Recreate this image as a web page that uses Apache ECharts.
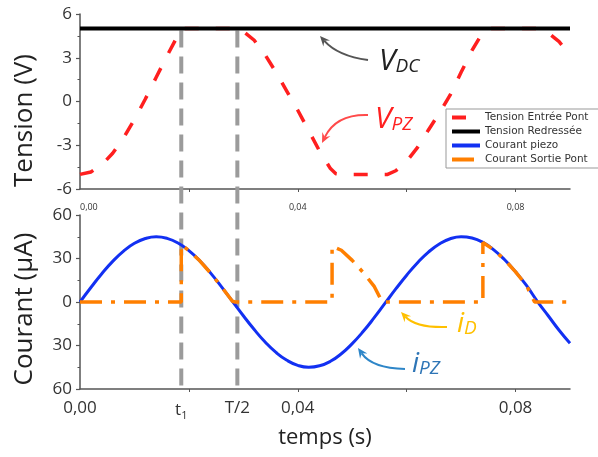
<!DOCTYPE html>
<html><head><meta charset="utf-8">
<script src="https://cdn.jsdelivr.net/npm/echarts@6/dist/echarts.min.js"></script>
<style>html,body{margin:0;padding:0;background:#fff}#c{width:598px;height:457px}</style>
</head><body><div id="c"></div>
<script>
// ---- data ----
const seriesNames = ['Tension Entrée Pont', 'Tension Redressée', 'Courant piezo', 'Courant Sortie Pont'];

// Tension Entrée Pont (V_PZ), volts
const tVpz = [0,0.002,0.004,0.006,0.008,0.010,0.012,0.014,0.016,0.018,0.0186,0.0289,0.030,0.032,0.034,0.036,0.038,0.040,0.042,0.044,0.046,0.047,0.048,0.0565,0.058,0.060,0.062,0.064,0.066,0.068,0.070,0.072,0.074,0.0748,0.084,0.086,0.088,0.090];
const vPz  = [-5,-4.83,-4.34,-3.55,-2.5,-1.23,0.17,1.66,3.14,4.55,5,5,4.8,4.2,3.2,2.0,0.7,-0.6,-2.0,-3.4,-4.6,-4.95,-5,-5,-4.75,-4.1,-3.15,-1.95,-0.8,0.45,2.0,3.5,4.75,5,5,4.7,4.1,3.2];

// Tension Redressée (V_DC), volts
const tDc = [0, 0.09];
const vDc = [5, 5];

// Courant piezo (i_PZ), µA
const tPiezo = [0,0.002,0.004,0.006,0.008,0.010,0.012,0.014,0.016,0.018,0.020,0.022,0.024,0.026,0.028,0.030,0.032,0.034,0.036,0.038,0.040,0.042,0.044,0.046,0.048,0.050,0.052,0.054,0.056,0.058,0.060,0.062,0.064,0.066,0.068,0.070,0.072,0.074,0.076,0.078,0.080,0.082,0.084,0.086,0.088,0.090];
const iPiezo = [0,10.0,19.5,28.0,35.1,40.5,43.8,45.0,43.9,40.7,35.4,28.4,19.9,10.4,0.5,-9.5,-19.0,-27.6,-34.8,-40.2,-43.7,-45.0,-44.0,-40.9,-35.7,-28.7,-20.4,-11.0,-1.0,9.0,18.5,27.1,34.4,40.0,43.6,45.0,44.1,41.1,36.0,29.1,20.8,11.4,0.5,-9.5,-19.5,-28.5];

// Courant Sortie Pont (i_D), µA
const tOut = [0,0.0186,0.0186,0.020,0.022,0.024,0.026,0.028,0.0285,0.0463,0.0463,0.048,0.050,0.052,0.054,0.0555,0.0740,0.0740,0.076,0.078,0.080,0.082,0.0835,0.090];
const iOut = [0,0,39.5,35.4,28.4,19.9,10.4,0.5,0,0,38.5,35.7,28.7,20.4,11.0,0,0,41.0,36.0,29.1,20.8,11.4,0,0];

// special instants
const tOne = 0.0186;   // t1
const tHalf = 0.0289;  // T/2

// tick values / labels
const xTickValues = [0.02, 0.04, 0.06, 0.08];
const xTopLabelValues = [0, 0.04, 0.08];
const xBottomLabelValues = [0, tOne, tHalf, 0.04, 0.08];
const tensionRange = [-6, 6], tensionStep = 3;
const courantRange = [-60, 60], courantStep = 30;

// ---- chart ----
const FONT = 'Open Sans';
const AX = '#555';
const zip = (a, b) => a.map((v, i) => [v, b[i]]);
const fmt = v => v.toFixed(2).replace('.', ',');

function yAxisCfg(grid, range, step, name, formatter, shift) {
  return {
    gridIndex: grid, type: 'value', min: range[0], max: range[1], interval: step,
    name: name, nameLocation: 'middle', nameGap: 42,
    nameTextStyle: { fontSize: 26, fontFamily: FONT, color: '#222', padding: [0, shift, 0, 0] },
    axisLine: { show: true, lineStyle: { color: AX, width: 1.5 } },
    axisTick: { show: true, length: 4, lineStyle: { color: AX, width: 1.2 } },
    minorTick: { show: true, splitNumber: 2, length: 2.5, lineStyle: { color: AX, width: 1 } },
    axisLabel: { fontSize: 17, fontFamily: FONT, color: '#333', margin: 8, formatter: formatter },
    splitLine: { show: false }
  };
}

const option = {
  animation: false,
  backgroundColor: '#fff',
  grid: [
    { left: 80, top: 14, width: 490, height: 175 },
    { left: 80, top: 215, width: 490, height: 174 }
  ],
  xAxis: [
    {
      gridIndex: 0, type: 'value', min: 0, max: 0.09,
      axisLine: { onZero: false, lineStyle: { color: AX, width: 1.5 } },
      axisTick: { show: true, length: 3, customValues: xTickValues, lineStyle: { color: AX } },
      axisLabel: { customValues: xTopLabelValues, formatter: fmt, fontSize: 9, fontFamily: FONT, color: '#333', margin: 14, alignMinLabel: 'left' },
      splitLine: { show: false }
    },
    {
      gridIndex: 1, type: 'value', min: 0, max: 0.09,
      name: 'temps (s)', nameLocation: 'middle', nameGap: 38,
      nameTextStyle: { fontSize: 22, fontFamily: FONT, color: '#222' },
      axisLine: { onZero: false, lineStyle: { color: AX, width: 1.5 } },
      axisTick: { show: true, length: 3, customValues: xTickValues, lineStyle: { color: AX } },
      axisLabel: {
        customValues: xBottomLabelValues, fontSize: 17, fontFamily: FONT, color: '#333', margin: 11,
        formatter: v => {
          if (Math.abs(v - tOne) < 1e-7) return '{a|t}{b|1}';
          if (Math.abs(v - tHalf) < 1e-7) return 'T/2';
          return fmt(v);
        },
        rich: {
          a: { fontSize: 17, fontFamily: FONT, color: '#333' },
          b: { fontSize: 11, fontFamily: FONT, color: '#333', padding: [10, 0, 0, 0] }
        }
      },
      splitLine: { show: false }
    }
  ],
  yAxis: [
    yAxisCfg(0, tensionRange, tensionStep, 'Tension (V)', v => String(v), 38),
    yAxisCfg(1, courantRange, courantStep, 'Courant (µA)', v => String(Math.abs(v)), 14)
  ],
  legend: {
    orient: 'vertical', left: 446, top: 109,
    itemWidth: 28, itemHeight: 4, itemGap: 3,
    padding: [3, 12, 3, 4],
    backgroundColor: '#fff', borderColor: '#999', borderWidth: 1, borderRadius: 0,
    itemStyle: { opacity: 0 },
    lineStyle: { width: 4 },
    textStyle: { fontSize: 10.5, fontFamily: 'DejaVu Sans', color: '#333' },
    data: seriesNames
  },
  series: [
    {
      name: seriesNames[0], type: 'line', xAxisIndex: 0, yAxisIndex: 0,
      data: zip(tVpz, vPz), showSymbol: false, symbol: 'none', z: 2,
      lineStyle: { color: '#ff1f1f', width: 3.5, type: [14, 17] },
      itemStyle: { color: '#ff1f1f' }
    },
    {
      name: seriesNames[1], type: 'line', xAxisIndex: 0, yAxisIndex: 0,
      data: zip(tDc, vDc), showSymbol: false, symbol: 'none', z: 4,
      lineStyle: { color: '#000', width: 4 },
      itemStyle: { color: '#000' }
    },
    {
      name: seriesNames[2], type: 'line', xAxisIndex: 1, yAxisIndex: 1,
      data: zip(tPiezo, iPiezo), showSymbol: false, symbol: 'none', smooth: true, z: 2,
      lineStyle: { color: '#1230f2', width: 3 },
      itemStyle: { color: '#1230f2' }
    },
    {
      name: seriesNames[3], type: 'line', xAxisIndex: 1, yAxisIndex: 1,
      data: zip(tOut, iOut), showSymbol: false, symbol: 'none', z: 4,
      lineStyle: { color: '#ff7f00', width: 3.5, type: [22, 9, 4, 9] },
      itemStyle: { color: '#ff7f00' }
    }
  ]
};

const chart = echarts.init(document.getElementById('c'), null, { renderer: 'canvas' });
chart.setOption(option);

// ---- overlays: vertical guides and annotations ----
function arrow(p0, c, p1, color) {
  const ang = Math.atan2(p1[1] - c[1], p1[0] - c[0]);
  const L = 10, W = 4.5;
  const bx = p1[0] - L * Math.cos(ang), by = p1[1] - L * Math.sin(ang);
  const px = -Math.sin(ang) * W, py = Math.cos(ang) * W;
  const mx = p1[0] - L * 0.65 * Math.cos(ang), my = p1[1] - L * 0.65 * Math.sin(ang);
  return [
    { type: 'bezierCurve', z: 100, shape: { x1: p0[0], y1: p0[1], x2: mx, y2: my, cpx1: c[0], cpy1: c[1] },
      style: { stroke: color, lineWidth: 2, fill: 'none' } },
    { type: 'polygon', z: 100, shape: { points: [[p1[0], p1[1]], [bx + px, by + py], [mx, my], [bx - px, by - py]] },
      style: { fill: color } }
  ];
}
function label(x, y, big, small, color, bigSize, smallSize) {
  return {
    type: 'text', z: 100, x: x, y: y,
    style: {
      text: '{v|' + big + '}{s|' + small + '}', verticalAlign: 'middle',
      rich: {
        v: { fontSize: bigSize, fontStyle: 'italic', fontFamily: FONT, fill: color, verticalAlign: 'bottom', lineHeight: bigSize },
        s: { fontSize: smallSize, fontStyle: 'italic', fontFamily: FONT, fill: color, verticalAlign: 'bottom', lineHeight: smallSize * 1.2 }
      }
    }
  };
}

const guideTop = chart.convertToPixel({ yAxisIndex: 0 }, vDc[0]);
const guideBottom = chart.convertToPixel({ yAxisIndex: 1 }, courantRange[0]);
const guides = [tOne, tHalf].map(t => {
  const x = chart.convertToPixel({ xAxisIndex: 0 }, t);
  return { type: 'line', z: 1, shape: { x1: x, y1: guideTop + 2, x2: x, y2: guideBottom },
    style: { stroke: '#9b9b9b', lineWidth: 4, lineDash: [17, 9] } };
});

const graphics = guides
  .concat(arrow([368, 60], [338, 56], [320, 36], '#555'))
  .concat(arrow([368, 115], [336, 114], [322, 143], '#ff4a4a'))
  .concat(arrow([447, 327], [416, 328], [401, 312], '#ffc000'))
  .concat(arrow([405, 369], [372, 368], [358, 348], '#2e86c8'))
  .concat([
    label(379, 61, 'V', 'DC', '#222', 30, 19),
    label(375, 119, 'V', 'PZ', '#ff2020', 30, 19),
    label(457, 324, 'i', 'D', '#ffc000', 28, 19),
    label(412, 364, 'i', 'PZ', '#2e75b6', 28, 19)
  ]);

chart.setOption({ graphic: graphics });
</script>
</body></html>
